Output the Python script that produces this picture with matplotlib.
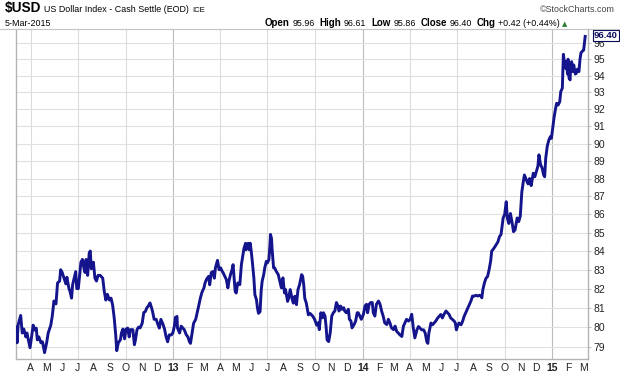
"""Recreate the StockCharts $USD daily close chart (Mar 2012 - Mar 2015)."""

import matplotlib
matplotlib.use("Agg")
import matplotlib.pyplot as plt
from matplotlib.lines import Line2D
from matplotlib.ticker import FixedLocator, FixedFormatter, NullLocator
import pandas as pd

W, H = 620, 376
plt.rcParams["font.family"] = ["Liberation Sans", "DejaVu Sans"]

# ---- data --------------------------------------------------------------
start_date = "2012-03-05"
day_offsets = [
    0, 1, 3, 8, 11, 14, 18, 20, 24, 26, 29, 32, 35, 38, 40, 43, 47, 50, 54, 58,
    61, 66, 69, 72, 76, 79, 83, 85, 88, 92, 95, 97, 101, 103, 106, 108, 111, 114,
    116, 119, 121, 124, 127, 130, 132, 134, 137, 140, 142, 144, 148, 151, 154,
    157, 161, 166, 169, 172, 175, 179, 182, 185, 188, 191, 193,
    196, 200, 202, 205, 208, 211, 214, 217, 219, 224, 227, 229, 232, 235, 238,
    242, 245, 248, 251, 254, 257, 260, 262, 265, 269, 272, 275, 278, 282, 285,
    288, 291, 294, 298, 301, 304, 306, 309, 310, 314, 317, 320, 323, 327, 330,
    333, 335, 338, 341, 345, 347, 350, 354, 357, 361, 363, 366, 370, 372, 375,
    378, 381, 383, 387,
    390, 393, 396, 398, 401, 404, 407, 409, 412, 415, 417, 419, 421, 423, 426,
    430, 433, 436, 438, 441, 442, 446, 448, 450, 452, 454, 457, 459, 462, 464,
    466, 469, 471, 473, 476, 478, 481, 483, 486, 488, 489, 491, 492, 495, 497,
    500, 504, 507, 510, 513, 516, 518, 522, 524, 527, 531, 533, 536, 539, 542,
    545, 549, 551, 553, 555, 558, 562, 565, 568, 571, 574, 578,
    581, 583, 586, 589, 591, 594, 596, 598, 601, 604, 607, 610, 613, 616, 619,
    621, 624, 627, 630, 632, 635, 639, 641, 644, 646, 650, 653, 656, 658, 661,
    664, 668, 671, 674, 676, 679, 682, 685, 687, 690, 693, 697, 700, 703, 706,
    709, 713, 716, 719, 722, 726, 729, 732, 735, 738, 742, 745, 748, 751, 755,
    758, 761, 764,
    767, 771, 774, 777, 780, 784, 787, 790, 792, 794, 798, 801, 804, 807, 811,
    814, 817, 820, 823, 827, 830, 833, 836, 840, 843, 845, 847, 849, 852, 856,
    859, 862, 865, 868, 872, 875, 878, 881, 885, 888, 891, 894, 896, 898, 901,
    904, 907, 910, 913, 915, 918, 922, 927, 930,
    933, 937, 940, 943, 945, 948, 951, 954, 957, 960, 964, 967, 970, 973, 976,
    978, 982, 985, 988, 991, 995, 998, 1001, 1004, 1006, 1009, 1012, 1015, 1017,
    1019, 1022, 1025, 1028, 1030, 1033, 1035, 1038, 1040, 1043, 1046, 1048, 1051,
    1053, 1054, 1057, 1059, 1061, 1062, 1064, 1066, 1067, 1069, 1071, 1073, 1076,
    1078, 1080, 1083, 1085, 1087, 1090, 1092, 1094, 1095,
]
closes = [
    80.0, 79.2, 80.1, 80.6, 79.7, 79.9, 79.5, 79.7, 79.2, 78.95, 79.5, 80.1, 79.85,
    79.95, 79.35, 79.5, 79.2, 79.25, 78.7, 79.2, 79.7, 80.1, 80.6, 81.35, 81.2,
    82.3, 82.4, 83.0, 82.85, 82.5, 82.25, 82.6, 82.0, 81.85, 81.5, 82.2, 82.55,
    82.9, 82.0, 82.0, 82.55, 83.4, 83.55, 83.05, 82.85, 83.55, 82.7, 83.9, 84.0,
    83.05, 83.4, 82.55, 82.4, 82.7, 82.7, 82.55, 81.85, 81.4, 81.7, 81.4, 81.5,
    81.15, 80.5, 79.6, 78.8,
    79.2, 79.35, 79.7, 79.9, 79.4, 79.9, 79.95, 79.5, 79.87, 79.87, 79.1, 79.35,
    79.87, 80.0, 79.96, 80.2, 80.75, 80.8, 81.0, 81.1, 81.25, 81.0, 80.8, 80.4,
    80.4, 80.15, 79.95, 80.4, 80.15, 79.9, 79.5, 79.25, 79.6, 79.6, 79.7, 80.05,
    80.5, 80.55, 79.95, 79.7, 80.05, 79.96, 79.87, 79.6, 79.5, 79.25, 79.17, 79.7,
    80.2, 80.4, 80.65, 81.0, 81.5, 81.8, 82.05, 82.3, 82.5, 82.65, 82.2, 82.85,
    82.9, 82.55, 83.1, 83.5,
    83.0, 83.1, 82.92, 82.83, 82.65, 82.48, 82.04, 82.39, 82.74, 83.0, 83.27,
    82.57, 81.86, 81.77, 82.3, 82.21, 83.27, 83.8, 84.15, 84.42, 84.07, 84.42,
    84.07, 84.42, 83.98, 83.45, 82.57, 81.68, 81.42, 80.98, 80.71, 80.8, 81.86,
    82.39, 82.74, 83.1, 83.45, 83.36, 83.54, 84.33, 84.9, 84.68, 84.15, 83.1,
    83.1, 82.92, 82.74, 82.39, 82.04, 82.57, 81.77, 81.95, 81.33, 81.5, 81.95,
    81.42, 81.24, 81.6, 81.16, 81.95, 82.21, 82.74, 82.65, 82.21, 81.5, 81.24,
    80.63, 80.71, 80.63, 80.54, 80.4, 80.1,
    80.22, 79.87, 80.74, 80.48, 80.74, 80.57, 80.05, 79.35, 79.26, 79.7, 80.57,
    80.74, 80.83, 81.27, 81.09, 80.83, 81.09, 80.92, 81.0, 80.83, 80.74, 80.92,
    80.4, 80.31, 79.96, 80.13, 80.31, 80.74, 80.74, 80.57, 80.4, 80.66, 81.09,
    81.18, 80.74, 81.18, 81.27, 81.27, 80.74, 80.57, 81.18, 81.35, 81.18, 80.83,
    80.57, 80.22, 80.13, 80.4, 80.22, 79.96, 79.87, 80.05, 79.78, 79.7, 79.61,
    79.52, 80.05, 80.22, 80.4, 80.31, 80.4, 80.66, 79.96,
    79.45, 79.86, 80.03, 79.95, 79.86, 79.86, 79.69, 79.26, 79.17, 79.69, 80.21,
    80.12, 80.21, 80.3, 80.47, 80.56, 80.65, 80.47, 80.65, 80.83, 80.74, 80.65,
    80.47, 80.38, 80.3, 80.21, 79.86, 80.03, 80.21, 80.12, 80.3, 80.56, 80.74,
    80.91, 81.17, 81.35, 81.61, 81.61, 81.65, 81.61, 81.65, 81.61, 81.52, 81.95,
    82.3, 82.55, 82.64, 83.0, 83.47, 84.0, 84.1, 84.27, 84.5, 84.78,
    84.9, 85.8, 86.0, 86.7, 85.8, 85.5, 86.05, 85.6, 85.05, 85.15, 85.8, 85.6,
    85.9, 87.25, 87.85, 88.2, 87.9, 87.7, 88.0, 87.6, 88.3, 88.1, 88.4, 88.7,
    89.35, 88.8, 88.6, 88.2, 88.1, 89.15, 89.85, 90.2, 90.4, 90.3, 91.05, 91.5,
    92.05, 92.35, 92.25, 92.45, 93.05, 93.25, 95.3, 95.05, 94.45, 94.85, 94.1,
    95.0, 93.85, 93.75, 94.65, 94.85, 94.25, 94.65, 94.1, 94.15, 94.4, 94.25,
    95.0, 95.4, 95.5, 95.55, 96.1, 96.4,
]
y_ticks = list(range(79, 97))

symbol = "$USD"
name = "US Dollar Index - Cash Settle (EOD)"
exchange = "ICE"
quote_date = "5-Mar-2015"
quote = [("Open", "95.96"), ("High", "96.61"), ("Low", "95.86"),
         ("Close", "96.40"), ("Chg", "+0.42 (+0.44%)")]
last_label = "96.40"

LINE = "#14148c"
GRID = "#e0e0e0"
FRAME = "#b4b4b4"


def fy(py):
    return 1 - py / H


def draw_runs(fig, x_px, y_px, runs):
    """Place text pieces side by side, measuring each one."""
    renderer = fig.canvas.get_renderer()
    x = x_px
    for text, gap, kw in runs:
        t = fig.text(x / W, fy(y_px), text, ha="left", va="baseline", **kw)
        x += t.get_window_extent(renderer=renderer).width + gap
    return x


def main():
    dates = pd.Timestamp(start_date) + pd.to_timedelta(day_offsets, unit="D")

    fig = plt.figure(figsize=(W / 100, H / 100), dpi=100)
    ax = fig.add_axes([16 / W, fy(359), (588.3 - 16) / W, (359 - 29) / H])

    ax.plot(dates, closes, color=LINE, lw=2.1, solid_joinstyle="round", zorder=3)

    # y axis: log scale on the right
    ax.set_yscale("log")
    ax.set_ylim(78.38, 96.86)
    ax.yaxis.set_major_locator(FixedLocator(y_ticks))
    ax.yaxis.set_major_formatter(FixedFormatter([str(v) for v in y_ticks]))
    ax.yaxis.set_minor_locator(NullLocator())
    ax.yaxis.tick_right()
    ax.tick_params(axis="y", length=2, width=0.6, color=FRAME, pad=1.5,
                   labelsize=7.5, labelcolor="#222222")
    ax.grid(axis="y", color=GRID, lw=0.8, zorder=0)

    # x axis: month initials, years in bold
    months = pd.date_range("2012-04-01", "2015-03-01", freq="MS")
    month_labels = [f"{m.year % 100:02d}" if m.month == 1 else m.strftime("%b")[0]
                    for m in months]
    ax.set_xticks(months)
    ax.set_xticklabels(month_labels)
    for lbl, m in zip(ax.get_xticklabels(), months):
        if m.month == 1:
            lbl.set_fontweight("bold")
    ax.xaxis.set_minor_locator(NullLocator())
    ax.tick_params(axis="x", length=0, pad=3, labelsize=7.5, labelcolor="#222222")
    for m in months:
        if m.month in (1, 4, 7, 10):
            ax.axvline(m, color="#bcbcbc" if m.month == 1 else "#dcdcdc",
                       lw=0.8, zorder=1)
    ax.set_xlim(pd.Timestamp("2012-03-04"), pd.Timestamp("2015-03-11"))

    for side in ("left", "bottom", "right"):
        ax.spines[side].set_color(FRAME)
        ax.spines[side].set_linewidth(1.0)
    ax.spines["top"].set_visible(False)
    fig.add_artist(Line2D([0, 1], [fy(29), fy(29)], color="#c4c4c4", lw=0.8))

    # last value tag (sits over the top tick label, as on the original)
    ax.annotate(last_label, xy=(1, closes[-1]), xycoords=("axes fraction", "data"),
                xytext=(4, 0.5), textcoords="offset points", ha="left", va="center",
                fontsize=6.8, fontweight="bold", color="#0a0a5a", zorder=5,
                annotation_clip=False,
                bbox=dict(boxstyle="square,pad=0.1", fc="white", ec="#0a0a5a", lw=0.8))

    # header
    draw_runs(fig, 5, 12, [
        (symbol, 3, dict(fontsize=9.8, fontweight="bold")),
        (name, 3, dict(fontsize=6.4)),
        (exchange, 0, dict(fontsize=5.6)),
    ])
    fig.text(615 / W, fy(12), "\u00a9StockCharts.com", ha="right", va="baseline",
             fontsize=6.4, color="#444444")
    fig.text(5 / W, fy(26.5), quote_date, ha="left", va="baseline", fontsize=6.4)

    runs = []
    for label, value in quote:
        runs.append((label, 2.5, dict(fontsize=7, fontweight="bold")))
        runs.append((value, 5, dict(fontsize=6.4)))
    end_x = draw_runs(fig, 265, 26.5, runs)
    fig.text((end_x - 3) / W, fy(26), "\u25b2", ha="left", va="baseline",
             fontsize=5, color="#2e7d32", family="DejaVu Sans")

    fig.savefig("out.png", dpi=100)
    plt.close(fig)


if __name__ == "__main__":
    main()
